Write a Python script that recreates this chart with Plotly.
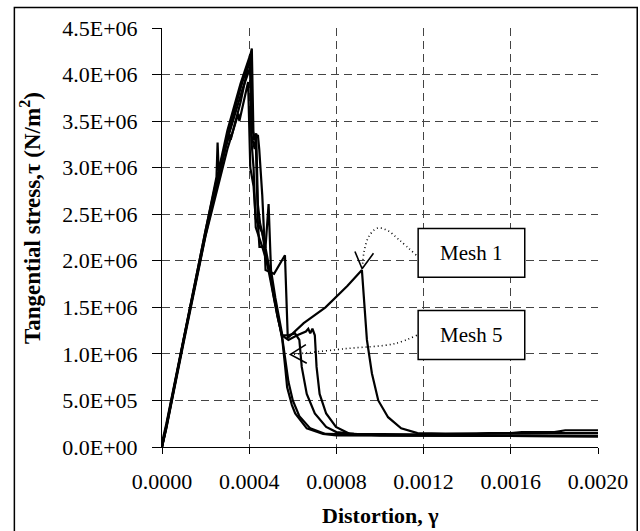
import plotly.graph_objects as go

# ---------------- data (distortion gamma, tangential stress tau) ----------------
mesh1_x = [0, 0.000005, 0.00002, 0.0001, 0.0002, 0.00025, 0.000255, 0.00026, 0.00031, 0.00036, 0.0004, 0.000412,
           0.00042, 0.00044, 0.000446, 0.00046, 0.00047, 0.000475, 0.000514, 0.000564, 0.000577, 0.00065, 0.00075,
           0.00085, 0.000917, 0.00094, 0.000963, 0.000992, 0.001037, 0.001097, 0.001172, 0.0013, 0.0016, 0.00165,
           0.0018, 0.00185, 0.002]
mesh1_y = [0, 0.1e6, 0.25e6, 1.17e6, 2.32e6, 2.9e6, 3.27e6, 2.97e6, 3.42e6, 3.85e6, 4.15e6, 4.28e6,
           3.3e6, 3.35e6, 3.2e6, 2.7e6, 2.2e6, 1.9e6, 1.86e6, 2.06e6, 1.17e6, 1.33e6, 1.5e6,
           1.73e6, 1.9e6, 1.15e6, 0.79e6, 0.5e6, 0.32e6, 0.2e6, 0.15e6, 0.145e6, 0.15e6, 0.16e6,
           0.16e6, 0.18e6, 0.18e6]

mesh2_x = [0, 0.00002, 0.0001, 0.0002, 0.00029, 0.00031, 0.000315, 0.00036, 0.000405, 0.00041, 0.000425, 0.000432,
           0.00044, 0.00045, 0.00047, 0.00049, 0.00051, 0.00053, 0.00055, 0.000565, 0.00058, 0.0006, 0.00063,
           0.00068, 0.00075, 0.001, 0.002]
mesh2_y = [0, 0.22e6, 1.15e6, 2.3e6, 3.2e6, 3.36e6, 3.3e6, 3.7e6, 4.2e6, 3.35e6, 3.2e6, 3.37e6,
           2.6e6, 2.4e6, 2.2e6, 1.95e6, 1.65e6, 1.4e6, 1.2e6, 0.95e6, 0.7e6, 0.5e6, 0.33e6,
           0.2e6, 0.14e6, 0.13e6, 0.12e6]

mesh3_x = [0, 0.00002, 0.0001, 0.0002, 0.0003, 0.00035, 0.000355, 0.00039, 0.000395, 0.000405, 0.00042, 0.00043,
           0.00046, 0.00048, 0.0005, 0.00053, 0.00055, 0.00058, 0.00062, 0.00066, 0.000671, 0.00068, 0.00069,
           0.000701, 0.000709, 0.000723, 0.000753, 0.000798, 0.000858, 0.001, 0.002]
mesh3_y = [0, 0.2e6, 1.13e6, 2.27e6, 3.2e6, 3.58e6, 3.5e6, 3.9e6, 3.92e6, 3.0e6, 2.8e6, 2.45e6,
           2.3e6, 2.0e6, 1.75e6, 1.4e6, 1.2e6, 1.15e6, 1.2e6, 1.24e6, 1.27e6, 1.22e6, 1.27e6,
           1.2e6, 0.86e6, 0.57e6, 0.36e6, 0.215e6, 0.144e6, 0.125e6, 0.115e6]

mesh4_x = [0, 0.00002, 0.0001, 0.0002, 0.0003, 0.00037, 0.000405, 0.000415, 0.00043, 0.000435, 0.00044, 0.000447,
           0.000475, 0.000489, 0.000493, 0.0005, 0.00052, 0.00054, 0.000552, 0.00058, 0.00061, 0.00063, 0.000641,
           0.000664, 0.000701, 0.000753, 0.0008, 0.00088, 0.0012, 0.0014, 0.0015, 0.002]
mesh4_y = [0, 0.21e6, 1.16e6, 2.28e6, 3.3e6, 3.85e6, 4.08e6, 3.4e6, 3.3e6, 2.9e6, 2.4e6, 2.15e6,
           2.15e6, 2.61e6, 2.3e6, 1.9e6, 1.6e6, 1.35e6, 1.2e6, 1.2e6, 1.22e6, 1.15e6, 0.86e6,
           0.57e6, 0.36e6, 0.215e6, 0.16e6, 0.14e6, 0.13e6, 0.13e6, 0.15e6, 0.15e6]

mesh5_x = [0, 0.00002, 0.0001, 0.0002, 0.0003, 0.00036, 0.0004, 0.000405, 0.00041, 0.00042, 0.00043, 0.00046,
           0.000492, 0.000529, 0.000552, 0.000565, 0.000574, 0.000596, 0.000611, 0.000664, 0.000739, 0.0008,
           0.0012, 0.002]
mesh5_y = [0, 0.23e6, 1.18e6, 2.33e6, 3.4e6, 3.9e6, 4.18e6, 4.22e6, 3.3e6, 3.0e6, 2.36e6, 2.15e6,
           1.9e6, 1.43e6, 1.15e6, 0.86e6, 0.64e6, 0.45e6, 0.36e6, 0.2e6, 0.14e6, 0.125e6,
           0.12e6, 0.115e6]

x_ticks = [0, 0.0004, 0.0008, 0.0012, 0.0016, 0.0020]
x_tick_labels = ["0.0000", "0.0004", "0.0008", "0.0012", "0.0016", "0.0020"]
y_ticks = [0, 0.5e6, 1.0e6, 1.5e6, 2.0e6, 2.5e6, 3.0e6, 3.5e6, 4.0e6, 4.5e6]
y_tick_labels = ["0.0E+00", "5.0E+05", "1.0E+06", "1.5E+06", "2.0E+06",
                 "2.5E+06", "3.0E+06", "3.5E+06", "4.0E+06", "4.5E+06"]

# callout labels and their dotted leader paths (data coords)
label1_text = "Mesh 1"
label1_box = [0.001175, 0.001664, 1.822e6, 2.348e6]
leader1_x = [0.001166, 0.00109, 0.001031, 0.000987, 0.000951, 0.000928, 0.000919]
leader1_y = [2.06e6, 2.22e6, 2.33e6, 2.35e6, 2.27e6, 2.11e6, 1.92e6]
head1_x = [0.000885, 0.000918, 0.00097]
head1_y = [2.10e6, 1.915e6, 2.08e6]

label5_text = "Mesh 5"
label5_box = [0.001175, 0.001664, 0.941e6, 1.467e6]
leader5_x = [0.001169, 0.001067, 0.000843, 0.000604]
leader5_y = [1.20e6, 1.11e6, 1.056e6, 0.995e6]
head5_x = [0.00066, 0.000589, 0.000664]
head5_y = [1.10e6, 0.995e6, 0.90e6]

FONT = "Liberation Serif"

fig = go.Figure()
for xs, ys in [(mesh1_x, mesh1_y), (mesh2_x, mesh2_y), (mesh3_x, mesh3_y),
               (mesh4_x, mesh4_y), (mesh5_x, mesh5_y)]:
    fig.add_trace(go.Scatter(x=xs, y=ys, mode="lines",
                             line=dict(color="black", width=2.2), showlegend=False,
                             hoverinfo="skip"))

for lx, ly in [(leader1_x, leader1_y), (leader5_x, leader5_y)]:
    fig.add_trace(go.Scatter(x=lx, y=ly, mode="lines",
                             line=dict(color="black", width=1.6, dash="1px,3px", shape="spline"),
                             showlegend=False, hoverinfo="skip"))
for hx, hy in [(head1_x, head1_y), (head5_x, head5_y)]:
    fig.add_trace(go.Scatter(x=hx, y=hy, mode="lines",
                             line=dict(color="black", width=1.6),
                             showlegend=False, hoverinfo="skip"))

shapes = []
annotations = []
for box, txt in [(label1_box, label1_text), (label5_box, label5_text)]:
    shapes.append(dict(type="rect", xref="x", yref="y", x0=box[0], x1=box[1], y0=box[2], y1=box[3],
                       line=dict(color="black", width=1.5), fillcolor="white", layer="above"))
    annotations.append(dict(x=(box[0] + box[1]) / 2, y=(box[2] + box[3]) / 2, xref="x", yref="y",
                            text=txt, showarrow=False, font=dict(family=FONT, size=21, color="black")))

# outer frame
shapes.append(dict(type="rect", xref="paper", yref="paper", x0=-0.3386, x1=1.09, y0=-0.22, y1=1.049,
                   line=dict(color="black", width=1.5), fillcolor="rgba(0,0,0,0)", layer="below"))

annotations.append(dict(text="<b>Distortion, γ</b>", xref="paper", yref="paper", x=0.5, y=-0.163,
                        xanchor="center", yanchor="middle", showarrow=False,
                        font=dict(family=FONT, size=22, color="black")))
annotations.append(dict(text="<b>Tangential stress,τ (N/m<sup>2</sup>)</b>", xref="paper", yref="paper",
                        x=-0.300, y=0.547, xanchor="center", yanchor="middle", textangle=-90,
                        showarrow=False, font=dict(family=FONT, size=23, color="black")))

fig.update_layout(
    width=640, height=531,
    margin=dict(l=162, r=32, t=28, b=84),
    paper_bgcolor="white", plot_bgcolor="white",
    font=dict(family=FONT, size=22, color="black"),
    shapes=shapes, annotations=annotations,
    xaxis=dict(range=[0, 0.002], tickvals=x_ticks, ticktext=x_tick_labels,
               showgrid=True, gridcolor="#444", griddash="8px,5px", gridwidth=1,
               showline=True, linecolor="black", linewidth=1,
               ticks="outside", ticklen=6, tickcolor="black", zeroline=False,
               ticklabelstandoff=9,
               tickfont=dict(family=FONT, size=22, color="black")),
    yaxis=dict(range=[0, 4.5e6], tickvals=y_ticks, ticktext=y_tick_labels,
               showgrid=True, gridcolor="#444", griddash="8px,5px", gridwidth=1,
               showline=True, linecolor="black", linewidth=1,
               ticks="outside", ticklen=9, tickcolor="black", zeroline=False,
               ticklabelstandoff=10,
               tickfont=dict(family=FONT, size=22, color="black")),
)

fig.write_html("out.html")
